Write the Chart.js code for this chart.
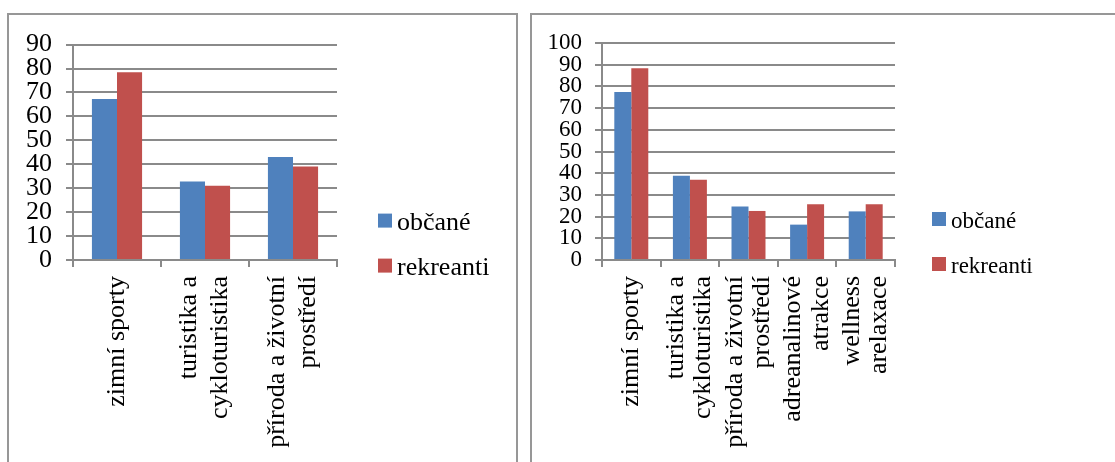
<!DOCTYPE html>
<html>
<head>
<meta charset="utf-8">
<script src="https://cdn.jsdelivr.net/npm/chart.js@4"></script>
<style>
  body { margin: 0; background: #fff; width: 1115px; height: 462px; overflow: hidden; position: relative; }
  .box { position: absolute; top: 13px; height: 470px; border: 2px solid #979797; background: #fff; }
  canvas { position: absolute; }
</style>
</head>
<body>
<div class="box" style="left:7px; width:507px;"></div>
<div class="box" style="left:530px; width:600px;"></div>
<canvas id="chartLeft" width="507" height="447" style="left:9px; top:15px;"></canvas>
<canvas id="chartRight" width="582" height="446" style="left:533px; top:16px;"></canvas>
<script>
// data
var seriesNames = ['občané', 'rekreanti'];

var leftCategories = ['zimní sporty', ['turistika a', 'cykloturistika'], ['příroda a životní', 'prostředí']];
var leftObcane = [67.3, 32.8, 43];
var leftRekreanti = [78.4, 31, 39.1];
var leftMax = 90;

var rightCategories = ['zimní sporty', ['turistika a', 'cykloturistika'], ['příroda a životní', 'prostředí'],
    ['adreanalinové', 'atrakce'], ['wellness', 'arelaxace']];
var rightObcane = [77.4, 38.8, 24.6, 16.3, 22.4];
var rightRekreanti = [88.4, 37, 22.6, 25.7, 25.7];
var rightMax = 100;

var colors = {
    obcane: '#4F81BD',
    rekreanti: '#C0504D'
};
var gridColor = '#8a8a8a';
var serif = '"Liberation Serif", "Times New Roman", serif';

// legend to the right of the plot, drawn next to the chart area
// (the built-in right legend gets squeezed to a quarter of the width)
var sideLegend = {
    id: 'sideLegend',
    afterDraw: function(chart, args, opts) {
        var ctx = chart.ctx;
        var area = chart.chartArea;
        ctx.save();
        ctx.font = opts.size + 'px ' + serif;
        ctx.textBaseline = 'alphabetic';
        ctx.textAlign = 'left';
        chart.data.datasets.forEach(function(ds, i) {
            var x = area.right + opts.dx;
            var y = area.top + opts.dy + i * opts.step;
            ctx.fillStyle = ds.backgroundColor;
            ctx.fillRect(x, y, 14, 14);
            ctx.fillStyle = '#000';
            ctx.fillText(ds.label, x + 19, y + 16);
        });
        ctx.restore();
    }
};

// rotated multi-line labels: centre the lines on the tick like Excel does
var centerLines = {
    id: 'centerLines',
    beforeDraw: function(chart) {
        var scale = chart.scales.x;
        var items = scale.getLabelItems(chart.chartArea);
        items.forEach(function(item) {
            if (item._centred || !Array.isArray(item.label)) return;
            item.options.translation[0] -= (item.label.length - 1) * item.font.lineHeight / 2;
            item._centred = true;
        });
    }
};

function makeChart(id, categories, obcane, rekreanti, max, s) {
    var ctx = document.getElementById(id).getContext('2d');
    return new Chart(ctx, {
        type: 'bar',
        data: {
            labels: categories,
            datasets: [{
                label: seriesNames[0],
                data: obcane,
                backgroundColor: colors.obcane
            }, {
                label: seriesNames[1],
                data: rekreanti,
                backgroundColor: colors.rekreanti
            }]
        },
        plugins: [sideLegend, centerLines],
        options: {
            responsive: false,
            animation: false,
            layout: {
                padding: { top: s.top, bottom: 0, left: 0, right: s.right }
            },
            datasets: {
                bar: { barPercentage: 1, categoryPercentage: s.catPct }
            },
            scales: {
                x: {
                    grid: { drawOnChartArea: false, color: gridColor, lineWidth: 2, tickLength: 7 },
                    border: { color: gridColor, width: 2 },
                    ticks: {
                        color: '#000',
                        autoSkip: false,
                        maxRotation: 90,
                        minRotation: 90,
                        padding: 9,
                        font: { family: serif, size: 26, lineHeight: s.xLine }
                    },
                    afterFit: function(scale) { scale.height = s.xHeight; }
                },
                y: {
                    min: 0,
                    max: max,
                    grid: { color: gridColor, lineWidth: 2, tickLength: 7 },
                    border: { color: gridColor, width: 2 },
                    ticks: {
                        stepSize: 10,
                        autoSkip: false,
                        color: '#000',
                        padding: s.yPad,
                        font: { family: serif, size: s.font }
                    },
                    afterFit: function(scale) { scale.width = s.yWidth; }
                }
            },
            plugins: {
                legend: { display: false },
                tooltip: { enabled: false },
                sideLegend: { size: s.font, dx: s.legDx, dy: 169, step: 45 }
            }
        }
    });
}

makeChart('chartLeft', leftCategories, leftObcane, leftRekreanti, leftMax, {
    top: 28, right: 179, catPct: 0.57, xLine: 1.2, xHeight: 202,
    yPad: 14, yWidth: 64, font: 26, legDx: 41
});
makeChart('chartRight', rightCategories, rightObcane, rightRekreanti, rightMax, {
    top: 27, right: 220, catPct: 0.58, xLine: 1.05, xHeight: 202,
    yPad: 13, yWidth: 69, font: 23, legDx: 37
});
</script>
</body>
</html>
